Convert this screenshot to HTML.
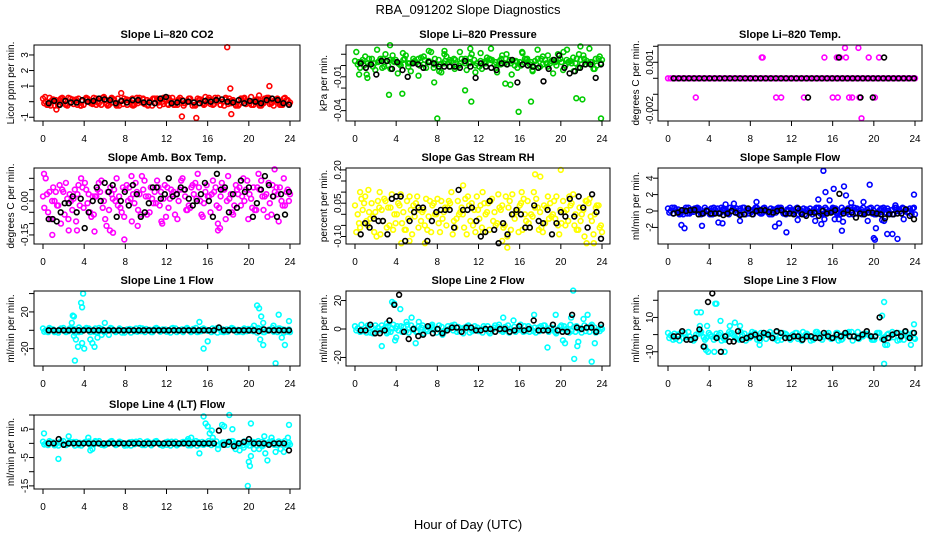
<!DOCTYPE html>
<html><head><meta charset="utf-8"><title>RBA_091202 Slope Diagnostics</title>
<style>
html,body{margin:0;padding:0;background:#fff;}
svg{display:block;font-family:"Liberation Sans",Arial,sans-serif;}
</style></head>
<body>
<svg id="chart" width="936" height="540" viewBox="0 0 936 540" xmlns="http://www.w3.org/2000/svg">
<rect x="0" y="0" width="936" height="540" fill="#fff"/>
<text x="468" y="14" text-anchor="middle" font-size="13">RBA_091202  Slope Diagnostics</text>
<text x="468" y="529" text-anchor="middle" font-size="13">Hour of Day (UTC)</text>
</svg>
<script>
const hourTicks = [0,4,8,12,16,20,24];

// ---- CO2 ----
const co2A = [0.2,-0.2,0.15,-0.25,0.1,0.25,-0.15,0.2,-0.2,0.05,0.25,-0.1,0.3,-0.2,0.15,-0.25,0.2,0.1,-0.2,0.25,-0.15,0.05,0.2,-0.25,0.15,0.1,-0.2,0.25,-0.1,0.2,-0.25,0.15,0.3,-0.15,0.1,-0.2,0.25,0.05,-0.2,0.2,-0.15,0.3,0.1,-0.25,0.2,-0.1,0.15,-0.2,0.1];
const co2B = [-0.1,0.25,-0.25,0.1,-0.15,0.2,0.05,-0.25,0.15,-0.1,0.2,-0.2,0.1,0.25,-0.15,0.05,-0.2,0.2,-0.1,0.15,-0.25,0.2,0.1,-0.15,0.25,-0.2,0.05,-0.1,0.2,-0.2,0.15,-0.15,0.1,0.25,-0.2,0.15,-0.1,-0.25,0.2,0.05,-0.2,0.15,-0.15,0.25,-0.05,0.2,-0.2,0.1];
const co2C = [0.0,-0.25,0.1,0.2,-0.2,-0.05,0.15,-0.25,0.25,0.0,-0.2,0.1,-0.15,0.2,-0.25,0.05,0.15,-0.2,0.25,-0.05,0.1,-0.25,0.2,0.0,-0.15,0.25,-0.2,0.1,0.05,-0.25,0.2,-0.1,0.15,-0.2,0.25,0.0,-0.15,0.1,-0.25,0.2,0.05,-0.2,0.15,-0.1,0.25,-0.25,0.0,0.2,-0.15];
const co2D = [-0.2,0.1,-0.05,0.25,-0.25,0.15,-0.2,0.05,0.2,-0.15,0.0,0.25,-0.25,-0.05,0.2,-0.15,0.1,-0.25,0.05,0.2,-0.2,0.15,-0.05,0.25,-0.2,0.0,0.15,-0.25,0.2,-0.05,0.1,-0.2,0.25,-0.15,0.05,-0.25,0.2,0.0,-0.15,0.25,-0.1,0.05,-0.25,0.2,-0.15,0.1,-0.2,0.25,-0.05];
const co2OutX = [13.5,14.9,17.9,18.2,18.3,22.0,1.3,7.6,0.2,21.0];
const co2OutY = [-0.95,-1.05,3.5,0.85,-0.8,1.0,-0.5,0.55,0.3,0.4];
const co2Black = [-0.1,0.05,-0.2,0.05,-0.05,-0.05,0.1,0,0.05,0.2,0.15,0.1,-0.1,0.05,-0.05,0.1,0.1,-0.05,-0.05,-0.1,0.2,0.3,-0.1,-0.05,0.05,0,-0.05,-0.1,0.05,0,0.1,0.15,0,-0.05,0.1,-0.1,0.05,0,-0.1,0.1,0.2,0.1,-0.1,-0.2];
const co2Ticks = [-1,0,1,2,3];
const co2Labels = ['-1','','1','2','3'];

// ---- Pressure ----
const presA = [0.004,-0.002,0.008,0.001,-0.004,0.006,0.01,-0.003,0.005,0,0.009,-0.005,0.003,0.007,-0.002,0.012,0.001,-0.006,0.008,0.004,-0.001,0.006,-0.004,0.01,0.002,-0.003,0.007,0.005,-0.006,0.009,0.001,0.004,-0.002,0.011,0.003,-0.005,0.006,0.008,-0.001,0.005,0.01,-0.004,0.003,0.007,-0.002,0.009,0.002,-0.003,0.006];
const presB = [0.012,0.003,-0.008,0.006,0.014,-0.002,0.004,0.009,-0.007,0.011,0.002,0.006,-0.009,0.008,0.013,0.001,-0.005,0.01,0.005,-0.003,0.012,0.002,0.007,-0.006,0.011,0.004,0.015,-0.002,0.006,0.01,-0.008,0.003,0.012,0.006,-0.004,0.014,0.001,0.009,-0.007,0.005,0.012,0.003,-0.005,0.01,0.006,0.015,-0.003,0.008];
const presC = [0.001,0.005,0.002,-0.001,0.003,0.006,0.0,0.004,0.002,0.005,-0.001,0.003,0.006,0.001,0.004,-0.002,0.005,0.002,0.003,0.006,0.0,0.004,0.002,0.005,-0.001,0.003,0.006,0.001,0.004,0.002,0.005,0.0,0.003,0.006,0.001,0.004,-0.001,0.005,0.002,0.003,0.006,0.0,0.004,0.002,0.005,0.001,0.003,0.006,0.002];
const presD = [0.003,0.0,0.006,0.002,0.004,-0.001,0.005,0.003,0.001,0.006,0.002,0.004,0.0,0.005,0.003,0.006,0.001,0.004,-0.001,0.005,0.002,0.006,0.003,0.0,0.004,0.002,0.005,0.003,0.001,0.006,0.002,0.004,0.0,0.005,0.003,0.001,0.006,0.002,0.004,0.0,0.003,0.005,0.002,0.006,0.001,0.004,0.003,0.0,0.005];
const presOutX = [1.2,3.3,3.4,4.6,7.7,8.0,10.7,11.3,14.6,15.1,15.9,17.1,21.5,22.1,23.9,11.2,21.9,20.6,8.7,0.4];
const presOutY = [-0.011,-0.026,0.018,-0.025,-0.015,-0.047,-0.022,-0.032,-0.016,-0.017,-0.041,-0.032,-0.029,-0.030,-0.047,0.015,0.017,0.014,0.013,-0.008];
const presBlack = [0.002,-0.002,0.001,-0.008,0.004,0.004,-0.003,0.003,-0.004,-0.01,0.002,0.001,-0.002,0.003,0.002,-0.001,-0.001,-0.001,-0.001,-0.002,0.004,-0.001,-0.011,0.002,-0.001,-0.002,-0.004,0.002,0.001,0.005,-0.015,0.001,0,-0.001,-0.002,-0.014,-0.003,0.005,0.009,-0.002,-0.007,-0.005,-0.002,0.001,0.001,-0.011,0.001];
const presTicks = [0.01,0,-0.01,-0.02,-0.03,-0.04];
const presLabels = ['','','-0.01','','','-0.04'];

// ---- Li-820 Temp ----
const tempA = [0,0,0,0,0,0,0,0,0,0,0,0,0,0,0,0,0,0,0,0,0,0,0,0,0,0,0,0,0,0,0,0,0,0,0,0,0,0,0,0,0,0,0,0,0,0,0,0,0,0,0,0,0,0,0,0,0,0,0,0,0,0,0,0,0,0,0,0,0,0,0,0,0,0,0,0,0,0,0,0,0,0,0,0,0,0,0,0,0,0,0,0,0,0,0,0,0];
const tempOutX = [9.1,9.2,15.2,16.4,16.7,17.3,19.5,20.5,2.7,10.5,11.0,13.2,16.0,16.5,17.6,17.9,18.6,20.1,17.2,18.5,18.8];
const tempOutY = [0.0013,0.0013,0.0013,0.0013,0.0013,0.0013,0.0013,0.0013,-0.0012,-0.0012,-0.0012,-0.0012,-0.0012,-0.0012,-0.0012,-0.0012,-0.0012,-0.0012,0.0019,0.0019,-0.0025];
const tempBlack = [0,0,0,0,0,0,0,0,0,0,0,0,0,0,0,0,0,0,0,0,0,0,0,0,0,0,0,0,0,0,0,0,0,0,0,0,0,0,0,0,0,0,0,0,0,0,0,0];
const tempBlackOutX = [16.6,21.0,13.6,18.7,19.9];
const tempBlackOutY = [0.0013,0.0013,-0.0012,-0.0012,-0.0012];
const tempTicks = [0.002,0.001,0,-0.001,-0.002];
const tempLabels = ['','0.001','','','-0.002'];

// ---- Amb Box Temp ----
const ambA = [0.02,-0.05,0.06,-0.02,0.04,-0.08,0.01,0.07,-0.03,0.03,-0.06,0.08,0.0,-0.04,0.05,0.02,-0.07,0.06,-0.01,0.03,0.09,-0.05,0.04,-0.02,0.07,0.01,-0.06,0.05,0.02,-0.03,0.08,0.0,0.04,-0.05,0.06,0.02,-0.08,0.03,0.07,-0.02,0.05,0.01,-0.04,0.09,0.03,-0.06,0.06,0.0,0.04];
const ambB = [-0.03,0.04,0.0,0.07,-0.06,0.03,0.05,-0.02,0.08,-0.05,0.02,0.04,-0.08,0.06,0.0,-0.03,0.05,0.01,0.08,-0.06,0.02,0.06,-0.01,0.04,-0.07,0.05,0.03,0.09,-0.04,0.06,0.01,-0.06,0.07,0.03,-0.02,0.08,0.0,-0.05,0.05,0.02,0.09,-0.03,0.06,0.02,-0.07,0.07,0.03,-0.02,0.05];
const ambC = [0.1,-0.08,0.04,-0.1,0.08,0.0,-0.09,0.1,0.05,-0.07,0.02,0.09,-0.11,0.03,0.1,-0.05,0.07,-0.09,0.04,0.11,-0.06,0.01,0.09,-0.1,0.06,0.03,-0.08,0.1,-0.04,0.07,0.12,-0.07,0.02,0.09,-0.1,0.05,0.11,-0.06,0.03,0.1,-0.08,0.06,0.12,-0.04,0.08,0.02,-0.09,0.1,0.0];
const ambD = [0.03,0.0,-0.02,0.05,0.01,-0.04,0.03,0.06,-0.01,0.02,0.05,-0.03,0.04,0.01,-0.02,0.06,0.0,0.03,-0.04,0.05,0.02,-0.01,0.06,0.01,-0.03,0.04,0.0,0.05,-0.02,0.03,0.06,-0.01,0.02,0.04,-0.03,0.05,0.01,-0.02,0.06,0.0,0.03,-0.04,0.05,0.02,-0.01,0.04,0.06,-0.02,0.03];
const ambOutX = [0.1,0.9,2.5,3.3,5.0,6.5,6.8,7.9,9.2,11.5,17.0,17.2,22.5,8.6];
const ambOutY = [0.12,-0.15,-0.13,-0.13,-0.135,-0.13,-0.14,-0.17,-0.11,-0.09,-0.13,-0.12,0.14,0.11];
const ambBlack = [-0.08,-0.08,-0.09,-0.05,-0.01,-0.01,0.02,-0.05,0.01,-0.12,-0.05,0.0,0.06,0.0,0.08,0.04,0.07,-0.07,0.0,0.04,-0.02,0.07,0.03,-0.07,-0.05,-0.01,0.06,0.06,0.01,0.03,0.1,0.02,0.03,0.06,0.05,0.01,-0.02,0.0,0.03,0.08,0.0,-0.07,0.12,0.05,0.06,-0.05,0.03,-0.03,0.09,0.04,0.06,-0.07,-0.01,0.05,0.11,0.07,0.02,-0.07,0.03,-0.06,0.04];
const ambTicks = [0.1,0.05,0,-0.05,-0.1,-0.15];
const ambLabels = ['','','0.00','','','-0.15'];

// ---- Gas Stream RH ----
const rhA = [0.04,-0.06,0.08,-0.02,0.01,-0.09,0.06,0.03,-0.04,0.09,-0.07,0.02,0.05,-0.03,0.07,-0.08,0.0,0.06,-0.05,0.1,-0.02,0.03,-0.09,0.05,0.08,-0.06,0.01,0.07,-0.04,0.04,-0.1,0.09,0.02,-0.07,0.06,-0.01,0.03,-0.08,0.08,0.0,-0.05,0.06,-0.03,0.09,-0.07,0.02,0.05,-0.09,0.04];
const rhB = [-0.08,0.07,-0.03,0.05,-0.1,0.02,-0.06,0.09,0.0,-0.04,0.06,-0.09,0.08,0.01,-0.07,0.04,0.07,-0.02,0.03,-0.09,0.06,0.0,0.08,-0.05,0.02,-0.08,0.05,-0.03,0.09,-0.06,0.03,0.0,-0.08,0.07,-0.04,0.1,-0.07,0.04,-0.02,0.06,-0.09,0.01,0.08,-0.05,0.03,-0.1,0.07,0.0,-0.06];
const rhC = [0.0,0.02,-0.05,-0.01,0.06,-0.03,0.03,-0.07,0.05,0.01,-0.02,0.04,-0.06,0.02,-0.01,0.05,-0.04,0.01,0.06,-0.03,0.0,-0.06,0.04,0.02,-0.02,0.05,-0.07,0.01,0.03,-0.05,0.06,-0.02,0.04,0.0,-0.06,0.03,0.01,-0.04,0.05,-0.02,0.02,-0.05,0.04,0.0,-0.03,0.06,-0.01,0.03,-0.05];
const rhD = [-0.04,0.05,0.01,-0.08,0.03,0.07,-0.05,0.0,0.04,-0.07,0.08,-0.01,0.02,-0.05,0.06,0.0,-0.08,0.03,0.05,-0.06,0.01,0.07,-0.03,-0.08,0.04,0.0,0.06,-0.05,0.02,0.08,-0.07,0.01,0.05,-0.03,0.0,0.07,-0.06,0.03,-0.01,0.08,-0.04,0.02,0.05,-0.07,0.0,0.06,-0.03,0.04,-0.08];
const rhOutX = [0.5,1.3,2.4,4.5,5.3,6.8,10.5,12.4,14.8,14.3,16.2,17.5,18.0,20.0,22.5,23.2];
const rhOutY = [0.1,0.11,0.1,-0.13,-0.12,-0.13,0.13,0.1,-0.15,-0.12,0.1,0.18,0.17,0.2,-0.13,-0.13];
const rhBlack = [-0.09,-0.04,-0.06,-0.02,-0.03,-0.03,-0.09,0.07,0.08,0.08,-0.12,-0.03,0.01,0.03,0.03,-0.12,-0.03,0.01,0.02,0.02,0.02,-0.06,0.11,0.02,0.02,0.03,-0.03,-0.1,-0.08,0.06,-0.07,-0.13,-0.04,-0.09,0.0,0.02,0.0,-0.06,-0.06,0.04,-0.03,-0.04,0.02,-0.09,-0.04,0.01,-0.01,0.07,-0.01,0.08,0.03,-0.06,0.09,0.01,-0.11];
const rhTicks = [0.2,0.15,0.1,0.05,0,-0.05,-0.1];
const rhLabels = ['0.20','','','0.05','','','-0.10'];

// ---- Sample Flow ----
const sfA = [0.3,-0.3,0.2,-0.4,0.4,-0.1,0.3,-0.3,0.1,0.4,-0.2,0.3,-0.4,0.2,0.0,0.4,-0.3,0.2,-0.2,0.4,-0.4,0.1,0.3,-0.3,0.4,-0.1,0.2,-0.4,0.3,0.0,-0.3,0.4,-0.2,0.3,-0.4,0.1,0.4,-0.3,0.2,-0.1,0.4,-0.4,0.3,-0.2,0.1,0.4,-0.3,0.2,-0.4];
const sfB = [-0.2,0.4,-0.4,0.1,-0.3,0.3,-0.1,0.4,-0.4,0.2,-0.3,0.1,0.4,-0.2,0.3,-0.4,0.1,0.4,-0.3,0.0,0.3,-0.2,0.4,-0.4,0.1,0.3,-0.3,0.2,-0.1,0.4,-0.4,0.2,0.0,-0.3,0.4,-0.2,0.1,0.3,-0.4,0.2,-0.3,0.4,-0.1,0.3,-0.4,0.0,0.4,-0.2,0.3];
const sfC = [0.0,0.2,-0.3,0.4,-0.1,0.3,-0.4,0.1,0.3,-0.2,0.4,-0.3,0.0,0.3,-0.4,0.2,-0.1,0.4,-0.3,0.1,-0.4,0.3,0.0,0.2,-0.3,0.4,-0.2,0.1,-0.4,0.3,0.2,-0.1,0.4,-0.3,0.0,0.3,-0.4,0.2,0.4,-0.2,0.1,-0.3,0.4,0.0,-0.4,0.2,0.3,-0.1,0.4];
const sfD = [0.4,-0.1,0.1,-0.3,0.2,0.4,-0.2,0.0,-0.4,0.3,0.1,-0.1,0.3,-0.3,0.4,0.0,-0.4,0.1,0.3,-0.2,0.2,0.4,-0.3,0.1,0.0,-0.4,0.3,-0.1,0.2,0.4,-0.3,0.0,0.3,-0.2,0.1,-0.4,0.4,0.0,-0.2,0.3,-0.4,0.1,0.2,-0.3,0.4,-0.1,0.0,0.3,-0.4];
const sfOutX = [1.3,1.6,3.3,4.9,5.3,5.6,6.4,7.0,8.6,10.4,10.8,11.5,12.6,14.3,14.9,15.2,14.6,15.1,15.3,15.7,16.2,16.6,16.1,16.9,17.1,17.3,17.0,17.8,19.0,19.4,19.6,20.0,20.1,20.2,20.8,21.3,21.8,22.3,22.9,23.9,21.0,22.1];
const sfOutY = [-1.7,-2.1,-1.8,-1.4,-1.5,0.8,0.9,-1.2,1.1,-1.9,-1.5,-2.6,-1.1,-1.2,-1.6,-1.0,1.4,4.9,2.3,1.3,-1.0,-1.0,2.7,-2.4,3.0,1.9,-1.3,1.0,1.1,-1.2,3.2,-3.3,-3.5,-2.1,-1.1,-2.8,-2.8,-3.4,-1.0,2.0,-1.2,0.7];
const sfBlack = [-0.3,-0.2,0.1,0.0,0.1,0.15,-0.4,-0.3,0.0,-0.3,-0.3,-0.3,-0.5,-0.3,0.0,-0.2,-0.5,-0.4,0.3,-0.4,0.0,0.1,0.1,-0.1,-0.2,0.0,0.1,-0.3,-0.3,-0.4,0.3,-0.4,-0.6,-0.2,-0.2,-0.6,0.0,-0.3,-0.2,0.1,2.1,-0.3,0.1,-0.2,-0.8,-0.3,-0.4,-0.2,-0.2,-0.3,-0.4,-0.9,-0.4,-0.4,-0.3,-0.3,0.2,-0.6,-1.0];
const sfTicks = [4,2,0,-2];
const sfLabels = ['4','2','0','-2'];

// ---- Line 1 Flow ----
const l1A = [2,-2,1,-2.5,2.5,-1,1.5,-2,0.5,2,-1.5,2.5,-2,1,-0.5,2,-2.5,1.5,-1,2.5,-2,0.5,2,-1.5,1,-2.5,2,-0.5,1.5,-2,2.5,-1,0.5,-2,2,-1.5,1,2.5,-2,0.5,-1,2,-2.5,1.5,-0.5,2.5,-2,1,-1.5];
const l1B = [-1.5,2.5,-2,1,-1,2,-2.5,0.5,1.5,-2,2,-0.5,-1.5,2.5,-2,1,0,-2.5,2,-1,1.5,-2,2.5,-0.5,-1.5,2,-2,1,2.5,-1,-2,1.5,-0.5,2,-2.5,1,-1.5,2,0.5,-2,1.5,-1,2.5,-2,0.5,-1.5,2,-2.5,1];
const l1C = [0,1.5,-1,2,-2,0.5,1,-1.5,2.5,0,-2,1.5,-0.5,2,-1,-2.5,1,0.5,-1.5,2,0,-2,1.5,1,-1,2.5,-0.5,-2,0.5,1.5,-1.5,2,0,-1,2.5,-2,0.5,1,-1.5,2,-0.5,0,1.5,-2,1,-1,2,0.5,-2];
const l1OutX = [2.8,3.5,3.0,3.2,3.4,3.8,4.0,3.9,3.7,3.8,2.9,3.0,4.6,4.8,5.0,5.3,5.7,6.0,6.4,15.6,16.0,15.2,20.8,21.0,21.2,21.4,20.5,21.1,21.4,22.4,22.9,23.2,23.5,23.9,22.6,3.1];
const l1OutY = [8,3,-6,-10,-18,-14,-20,40,30,25,16,15,-10,-14,-18,-8,-5,8,-5,-20,-12,9,27,24,15,8,5,-10,-16,5,17,-8,-16,10,-36,-33];
const l1Black = [0,0,0,0,0,0,0,0,0,0,0,0,0,0,0,0,0,0,0,0,0,0,0,0,0,0,0,0,0,0,0,0,0,0,3,0,0,0,0,0,0,0,-1,1,0,0,0,0,0];
const l1Ticks = [40,20,0,-20];
const l1Labels = ['','20','','-20'];

// ---- Line 2 Flow ----
const l2A = [2,-2,1,-2.5,2.5,-1,1.5,-2,0.5,2,-1.5,2.5,-2,1,-0.5,2,-2.5,1.5,-1,2.5,-2,0.5,2,-1.5,1,-2.5,2,-0.5,1.5,-2,2.5,-1,0.5,-2,2,-1.5,1,2.5,-2,0.5,-1,2,-2.5,1.5,-0.5,2.5,-2,1,-1.5];
const l2B = [-1,3,-2.5,1.5,-1.5,2.5,-3,0.5,2,-2,3,-0.5,-2,2.5,-1.5,1,0,-2.5,2,-1,1.5,-3,2.5,-0.5,-1.5,2,-2,1,3,-1,-2.5,1.5,-0.5,2,-2,1,-1.5,2.5,0.5,-2,1.5,-1,3,-2,0.5,-1.5,2,-2.5,1];
const l2C = [0.5,-1.5,2.5,-3,1,0,-2,3,-1,1.5,-2.5,0.5,2,-3,1,-0.5,2.5,-2,0,3,-1.5,1,-2.5,2,-0.5,0.5,-3,2.5,-1,1.5,0,-2,3,-1.5,0.5,-2.5,2,-0.5,1,-3,2.5,0,-1.5,2,-2.5,1,3,-1,0];
const l2OutX = [2.6,3.2,3.1,3.6,3.8,4.4,3.9,4.0,5.0,5.5,5.9,6.2,7.5,8.5,14.4,15.4,17.4,18.7,19.5,20.2,20.4,21.0,21.2,21.3,21.6,21.7,22.2,22.6,23.0,23.3];
const l2OutY = [-12,2,4,19,18,14,-8,-6,5,8,-10,5,3,-4,8,6,10,-13,10,-8,-10,8,27,-21,-12,-9,7,10,-23,-10];
const l2Black = [-1,-1,3,-3,-3,-1,6,17,24,-2,-7,0,-5,-4,2,-3,0,-3,-1,1,1,-2,1,1,-1,-1,0,0,-2,0,0,-2,-1,2,-1,0,6,-1,-1,-1,3,-1,-2,-2,10,1,0,1,1,-2,3];
const l2Ticks = [20,0,-20];
const l2Labels = ['20','0','-20'];

// ---- Line 3 Flow ----
const l3A = [1,-3,0,-2,1.5,-3.5,0.5,-1.5,1,-3,0,-2.5,1.5,-1,-3,0.5,-2,1,-3.5,0,1.5,-2.5,-1,0.5,-3,1,-2,0,-3.5,1.5,-1,0.5,-2.5,1,-3,0,1.5,-2,-1,0.5,-3,1,-2.5,0,1.5,-3.5,0.5,-1.5,1];
const l3B = [-2,0.5,-3.5,1,-1,-2.5,1.5,-3,0,-1.5,1,-3,0.5,-2,1.5,-3.5,0,-1,1,-2.5,-0.5,1.5,-3,0,-2,1,-3.5,0.5,-1.5,1.5,-3,0,-2,1,-2.5,0.5,-3.5,1.5,-1,0,-3,1,-2,0.5,-1.5,1,-3,0,-2];
const l3C = [-0.5,-2.5,1,-1.5,-3,0,1.5,-2,-1,0.5,-3.5,-0.5,1,-2.5,0,-1.5,1.5,-3,-0.5,0.5,-2,-3.5,1,-1,0,-2.5,1.5,-0.5,-3,0.5,-1.5,1,-2,-3.5,0,1.5,-1,-2.5,0.5,-0.5,-3,1,-1.5,-2,0.5,-3,1.5,-1,-2.5];
const l3OutX = [2.8,3.2,3.8,3.6,3.7,3.9,4.5,4.6,4.7,5.1,5.5,6.0,6.5,7.0,8.9,21.0,20.8,21.1,21.3,21.0,23.9,23.6,3.1];
const l3OutY = [13,13,5,-7,-9,-10,-10,18,18,8,-10,5,7,5,-6,19,11,-6,-6,-17,6,-6,5];
const l3Black = [-1,-1,2,-3,-3,-2,3,-7,19,24,-2,-10,-1,-4,-4,2,-3,-2,-1,0,-2,1,0,-2,2,1,-2,-2,-1,-1,-3,-1,-1,-2,-2,1,-1,-2,0,-1,1,-1,-1,-2,0,2,-1,-1,10,-3,-2,0,1,-1,2,-2,1];
const l3Ticks = [20,10,0,-10];
const l3Labels = ['','10','','-10'];

// ---- Line 4 (LT) Flow ----
const l4A = [0.6,-0.6,0.3,-0.8,0.8,-0.2,0.5,-0.6,0.1,0.7,-0.4,0.8,-0.7,0.3,0,0.6,-0.8,0.4,-0.3,0.8,-0.6,0.2,0.7,-0.5,0.3,-0.8,0.6,-0.1,0.5,-0.7,0.8,-0.3,0.2,-0.6,0.7,-0.4,0.3,0.8,-0.7,0.1,-0.3,0.6,-0.8,0.5,-0.2,0.8,-0.6,0.3,-0.5];
const l4B = [-0.4,0.8,-0.7,0.3,-0.3,0.6,-0.8,0.2,0.5,-0.6,0.8,-0.1,-0.5,0.7,-0.6,0.3,0,-0.8,0.6,-0.3,0.5,-0.7,0.8,-0.2,-0.5,0.6,-0.7,0.3,0.8,-0.3,-0.8,0.5,-0.2,0.7,-0.6,0.3,-0.5,0.8,0.1,-0.7,0.5,-0.3,0.8,-0.6,0.2,-0.4,0.7,-0.8,0.3];
const l4C = [0,0.4,-0.3,0.7,-0.6,0.1,0.5,-0.8,0.3,-0.2,0.6,-0.5,0.0,0.8,-0.4,0.2,-0.7,0.5,0.1,-0.6,0.7,-0.2,0.3,-0.8,0.6,0.0,-0.4,0.5,-0.7,0.2,0.4,-0.5,0.8,-0.1,-0.6,0.3,0.6,-0.3,0.0,0.7,-0.8,0.4,-0.2,0.1,0.6,-0.5,0.2,0.8,-0.4];
const l4OutX = [0.1,1.5,2.5,4.4,4.6,4.8,14.4,15.2,15.6,15.8,16.2,16.5,16.0,16.4,17.0,17.4,17.6,18.1,18.4,18.7,19.1,19.5,20.2,20.5,21.0,21.3,19.9,20.0,20.1,20.2,21.6,21.8,21.5,22.2,22.6,23.1,23.4,23.9,23.8,14.1];
const l4OutY = [3.5,-5.5,2.5,2,-2.5,-2,2,-3.5,9.5,7,3.5,2,6,4.5,-2,6.5,6,10,5,-2,-2.5,-1.5,7,-2,-2,-1,-15,-6.5,-8,-4.5,-3.5,-6,2.5,2,-3,-2,-3,6.5,2,1.5];
const l4Black = [0,0,1.5,-0.5,0,0,0,0,0,0,0,0,0,0,0,0,0,0,0,0,0,0,0,0,0,0,0,0,0,0,0,0,0,0,4.5,-0.5,0.5,-1,0,0.5,1.5,0,0,0,-0.5,0,0,0,-2.5];
const l4Ticks = [10,5,0,-5,-10,-15];
const l4Labels = ['','5','','-5','','-15'];

// ---- layout (positions, not data) ----
const cols = [
  {left:34,right:300,x0:43,x24:290,ytitle:11,ylab:25},
  {left:346,right:610,x0:355,x24:602,ytitle:324,ylab:338},
  {left:658,right:922,x0:668,x24:915,ytitle:636,ylab:650}
];
const rows = [{top:45,bottom:121},{top:168,bottom:244},{top:291,bottom:366},{top:415,bottom:489}];

const panels = [
  {key:'co2',title:'Slope Li\u2013820 CO2',ylabel:'Licor ppm per min.',col:0,row:0,color:'#ff0000',ylim:[-1.24,3.64],bands:[co2A,co2B,co2C,co2D],outX:co2OutX,outY:co2OutY,black:co2Black,ticks:co2Ticks,labels:co2Labels},
  {key:'pressure',title:'Slope Li\u2013820 Pressure',ylabel:'kPa per min.',col:1,row:0,color:'#00cc00',ylim:[-0.0492,0.0182],bands:[presA,presB,presC,presD],outX:presOutX,outY:presOutY,black:presBlack,ticks:presTicks,labels:presLabels},
  {key:'li820-temp',title:'Slope Li\u2013820 Temp.',ylabel:'degrees C per min.',col:2,row:0,color:'#ff00ff',ylim:[-0.00267,0.00208],bands:[tempA],outX:tempOutX,outY:tempOutY,black:tempBlack,bOutX:tempBlackOutX,bOutY:tempBlackOutY,ticks:tempTicks,labels:tempLabels},
  {key:'amb-box-temp',title:'Slope Amb. Box Temp.',ylabel:'degrees C per min.',col:0,row:1,color:'#ff00ff',ylim:[-0.19,0.1456],bands:[ambA,ambB,ambC,ambD],outX:ambOutX,outY:ambOutY,black:ambBlack,ticks:ambTicks,labels:ambLabels},
  {key:'gas-stream-rh',title:'Slope Gas Stream RH',ylabel:'percent per min.',col:1,row:1,color:'#ffff00',ylim:[-0.1338,0.2086],bands:[rhA,rhB,rhC,rhD],outX:rhOutX,outY:rhOutY,black:rhBlack,ticks:rhTicks,labels:rhLabels},
  {key:'sample-flow',title:'Slope Sample Flow',ylabel:'ml/min per min.',col:2,row:1,color:'#0000ff',ylim:[-4.02,5.24],bands:[sfA,sfB,sfC,sfD],outX:sfOutX,outY:sfOutY,black:sfBlack,ticks:sfTicks,labels:sfLabels},
  {key:'line1-flow',title:'Slope Line 1 Flow',ylabel:'ml/min per min.',col:0,row:2,color:'#00ffff',ylim:[-38.9,42.8],bands:[l1A,l1B,l1C],outX:l1OutX,outY:l1OutY,black:l1Black,ticks:l1Ticks,labels:l1Labels},
  {key:'line2-flow',title:'Slope Line 2 Flow',ylabel:'ml/min per min.',col:1,row:2,color:'#00ffff',ylim:[-26.0,26.7],bands:[l2A,l2B,l2C],outX:l2OutX,outY:l2OutY,black:l2Black,ticks:l2Ticks,labels:l2Labels},
  {key:'line3-flow',title:'Slope Line 3 Flow',ylabel:'ml/min per min.',col:2,row:2,color:'#00ffff',ylim:[-18.3,25.4],bands:[l3A,l3B,l3C],outX:l3OutX,outY:l3OutY,black:l3Black,ticks:l3Ticks,labels:l3Labels},
  {key:'line4-flow',title:'Slope Line 4 (LT) Flow',ylabel:'ml/min per min.',col:0,row:3,color:'#00ffff',ylim:[-16.1,10.0],bands:[l4A,l4B,l4C],outX:l4OutX,outY:l4OutY,black:l4Black,ticks:l4Ticks,labels:l4Labels}
];

const NS = 'http://www.w3.org/2000/svg';
const svg = document.getElementById('chart');
function mk(tag, parent){ const e = document.createElementNS(NS, tag); parent.appendChild(e); return e; }

function drawPanel(p){
  const c = cols[p.col], r = rows[p.row];
  const xs = h => c.x0 + (h/24)*(c.x24 - c.x0);
  const ys = v => r.bottom - (v - p.ylim[0])/(p.ylim[1]-p.ylim[0])*(r.bottom - r.top);
  const g = mk('g', svg);
  
  

  const t = mk('text', g);
  
  
  t.setAttribute('x', (c.left + c.right)/2); t.setAttribute('y', r.top - 7);
  t.setAttribute('text-anchor','middle'); t.setAttribute('font-size','11'); t.setAttribute('font-weight','bold');
  t.textContent = p.title;

  const yl = mk('text', g);
  
  
  const cy = (r.top + r.bottom)/2;
  yl.setAttribute('transform', 'translate(' + (c.ytitle+3) + ',' + cy + ') rotate(-90)');
  yl.setAttribute('text-anchor','middle'); yl.setAttribute('font-size','10');
  yl.textContent = p.ylabel;

  const pts = mk('g', g);
  
  
  function dot(h, v, col, name){
    const e = mk('circle', pts);
    
    
    e.setAttribute('cx', xs(h).toFixed(1)); e.setAttribute('cy', ys(v).toFixed(1));
    e.setAttribute('r', '2.4'); e.setAttribute('fill','none');
    e.setAttribute('stroke', col); e.setAttribute('stroke-width','1.6');
  }
  p.bands.forEach((arr, bi) => {
    const start = bi * 0.13, end = 24 - (p.bands.length-1-bi)*0.11;
    arr.forEach((v, i) => dot(start + i*(end-start)/(arr.length-1), v, p.color, 'point-' + p.key));
  });
  p.outX.forEach((h, i) => dot(h, p.outY[i], p.color, 'outlier-' + p.key));
  p.black.forEach((v, i) => dot(0.55 + i*(23.35/(p.black.length-1)), v, '#000', 'hourly-point-' + p.key));
  if (p.bOutX) p.bOutX.forEach((h, i) => dot(h, p.bOutY[i], '#000', 'hourly-point-' + p.key));

  const box = mk('rect', g);
  
  
  box.setAttribute('x', c.left); box.setAttribute('y', r.top);
  box.setAttribute('width', c.right - c.left); box.setAttribute('height', r.bottom - r.top);
  box.setAttribute('fill','none'); box.setAttribute('stroke','#000'); box.setAttribute('stroke-width','1');

  p.ticks.forEach((v, i) => {
    const y = ys(v);
    const tk = mk('line', g);
    
    
    tk.setAttribute('x1', c.left - 5); tk.setAttribute('x2', c.left);
    tk.setAttribute('y1', y); tk.setAttribute('y2', y); tk.setAttribute('stroke','#000');
    if (p.labels[i]) {
      const lb = mk('text', g);
      
      
      lb.setAttribute('transform', 'translate(' + (c.ylab+3) + ',' + y + ') rotate(-90)');
      lb.setAttribute('text-anchor','middle'); lb.setAttribute('font-size','10');
      lb.textContent = p.labels[i];
    }
  });
  hourTicks.forEach(h => {
    const x = xs(h);
    const tk = mk('line', g);
    
    
    tk.setAttribute('x1', x); tk.setAttribute('x2', x);
    tk.setAttribute('y1', r.bottom); tk.setAttribute('y2', r.bottom + 5); tk.setAttribute('stroke','#000');
    const lb = mk('text', g);
    
    
    lb.setAttribute('x', x); lb.setAttribute('y', r.bottom + 21);
    lb.setAttribute('text-anchor','middle'); lb.setAttribute('font-size','10');
    lb.textContent = String(h);
  });
}
panels.forEach(drawPanel);
</script>
</body></html>
